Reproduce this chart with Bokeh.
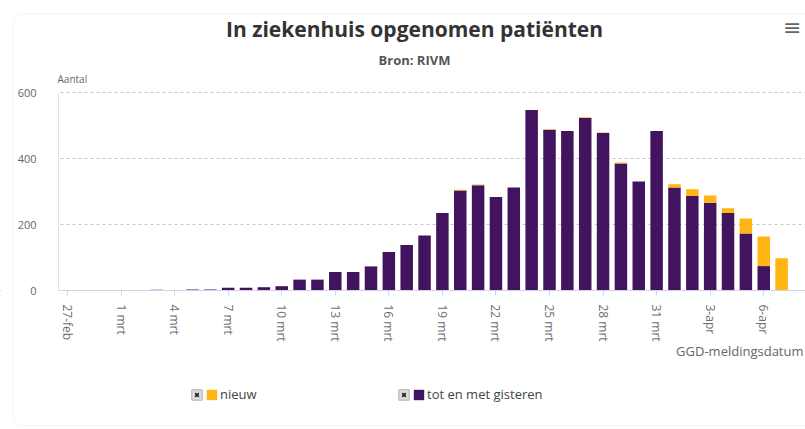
from bokeh.plotting import figure
from bokeh.models import (Label, Legend, LegendItem, FixedTicker, Range1d,
                          ColumnDataSource, BoxAnnotation)
from bokeh.embed import file_html
from bokeh.resources import INLINE

# ---- data ----
day_labels = ["27-feb", "28-feb", "29-feb",
              "1 mrt", "2 mrt", "3 mrt", "4 mrt", "5 mrt", "6 mrt", "7 mrt", "8 mrt",
              "9 mrt", "10 mrt", "11 mrt", "12 mrt", "13 mrt", "14 mrt", "15 mrt",
              "16 mrt", "17 mrt", "18 mrt", "19 mrt", "20 mrt", "21 mrt", "22 mrt",
              "23 mrt", "24 mrt", "25 mrt", "26 mrt", "27 mrt", "28 mrt", "29 mrt",
              "30 mrt", "31 mrt", "1-apr", "2-apr", "3-apr", "4-apr", "5-apr", "6-apr", "7-apr"]
tot_en_met_gisteren = [0, 0, 0,
                       0, 0, 2, 0, 3, 3, 8, 8,
                       10, 13, 33, 33, 56, 56, 73,
                       117, 138, 167, 235, 303, 319, 283,
                       312, 547, 487, 483, 523, 477, 385,
                       330, 483, 312, 286, 266, 235, 173, 74, 0]
nieuw = [0, 0, 0,
         0, 0, 0, 0, 0, 0, 0, 0,
         0, 0, 0, 0, 0, 0, 0,
         0, 0, 0, 0, 2, 2, 0,
         0, 0, 2, 0, 2, 2, 3,
         0, 0, 10, 21, 22, 14, 45, 90, 98]
tick_step = 3
y_ticks = [0, 200, 400, 600]
title_text = "In ziekenhuis opgenomen patiënten"
subtitle_text = "Bron: RIVM"
y_title = "Aantal"
x_title = "GGD-meldingsdatum"
legend_labels = ["nieuw", "tot en met gisteren"]

PURPLE = "#42145f"
ORANGE = "#ffb612"
FONT = "Open Sans"
X0 = -0.5          # left end of the category axis

x_idx = list(range(len(day_labels)))
tick_pos = [i for i in x_idx if i % tick_step == 0]
overrides = {i: day_labels[i] for i in tick_pos}

source = ColumnDataSource(dict(x=x_idx, tot=tot_en_met_gisteren, nieuw=nieuw))

# the plotting frame fills the whole figure; ranges are extended so that the
# chart area (0..600, 27-feb..7-apr) sits where it is in the original
x_range = Range1d(-3.754, 41.34)
y_range = Range1d(-421.2, 878.8)
p = figure(width=805, height=429, output_backend="svg", toolbar_location=None,
           x_range=x_range, y_range=y_range,
           min_border_left=0, min_border_right=0, min_border_top=0, min_border_bottom=0)
p.outline_line_color = None
p.background_fill_color = "white"
p.border_fill_color = "white"

# grid
p.xgrid.visible = False
p.ygrid.ticker = FixedTicker(ticks=y_ticks)
p.ygrid.grid_line_color = "#c8c8c8"
p.ygrid.grid_line_dash = "3 3"

# mask the grid lines left of the y axis
p.add_layout(BoxAnnotation(left=x_range.start - 5, left_units="data",
                           right=X0, right_units="data", fill_color="white", fill_alpha=1,
                           line_color=None, level="underlay"))

rs = p.vbar_stack(["tot", "nieuw"], x="x", width=0.7, source=source,
                  color=[PURPLE, ORANGE], line_color=None)

# x axis drawn at y = 0 inside the frame
xa = p.xaxis[0]
xa.fixed_location = 0
xa.bounds = (X0, x_range.end)
xa.ticker = FixedTicker(ticks=tick_pos)
xa.major_label_overrides = overrides
xa.major_label_orientation = "vertical"
xa.axis_line_color = "#ccd6eb"
xa.major_tick_line_color = "#ccd6eb"
xa.major_tick_out = 5
xa.major_tick_in = 0
xa.minor_tick_line_color = None
xa.major_label_text_font = FONT
xa.major_label_text_font_size = "12px"
xa.major_label_text_color = "#6e6e6e"
xa.major_label_standoff = 9

# y axis drawn at the left end of the category axis
ya = p.yaxis[0]
ya.fixed_location = X0
ya.ticker = FixedTicker(ticks=y_ticks)
ya.bounds = (y_ticks[0], y_ticks[-1])
ya.axis_line_color = "#e3e3e3"
ya.major_tick_line_color = None
ya.minor_tick_line_color = None
ya.major_label_text_font = FONT
ya.major_label_text_font_size = "11px"
ya.major_label_text_color = "#666666"
ya.major_label_standoff = 16

# card border
p.add_layout(BoxAnnotation(left=12, right=830, bottom=4, top=416,
                           left_units="screen", right_units="screen",
                           bottom_units="screen", top_units="screen",
                           fill_alpha=0, line_color="#dcdcdc", line_width=1,
                           border_radius=12))


def lab(text, x, y, size, color, bold=False, align="left", font=FONT):
    p.add_layout(Label(x=x, y=y, x_units="screen", y_units="screen", text=text,
                       text_align=align, text_baseline="middle", text_font=font,
                       text_font_size=size, text_color=color,
                       text_font_style="bold" if bold else "normal"))


lab(title_text, 414, 401, "21px", "#333333", bold=True, align="center")
lab(subtitle_text, 414, 370, "13px", "#555555", bold=True, align="center")
lab(y_title, 57, 351, "10px", "#666666")
lab(x_title, 803, 79, "13px", "#666666", align="right")
lab("\u2261", 801, 402, "22px", "#666666", align="right", font="DejaVu Sans")

# legend checkbox glyphs: renderers with a single zero-height point left of the visible range
cb_src = ColumnDataSource(dict(x=[x_range.start - 2], y=[0]))
cb_box = p.vbar(x="x", top="y", width=0.7, source=cb_src,
                fill_color="#dddddd", line_color="#b0b0b0")
cb_mark = p.scatter(x="x", y="y", source=cb_src, marker="x", size=8,
                    line_color="#222222", line_width=1.6)

for lx, lbl, r in [(190, legend_labels[0], rs[1]), (397, legend_labels[1], rs[0])]:
    leg = Legend(items=[LegendItem(label=" ", renderers=[cb_box, cb_mark]),
                        LegendItem(label=lbl, renderers=[r])],
                 orientation="horizontal", location=(lx, 26),
                 glyph_width=13, glyph_height=13, label_standoff=2, spacing=0,
                 label_width=0, label_height=13,
                 padding=0, margin=0, border_line_color=None, background_fill_alpha=0,
                 label_text_font=FONT, label_text_font_size="13px",
                 label_text_color="#444444")
    p.add_layout(leg, "center")

open("out.html", "w").write(file_html(p, INLINE))
